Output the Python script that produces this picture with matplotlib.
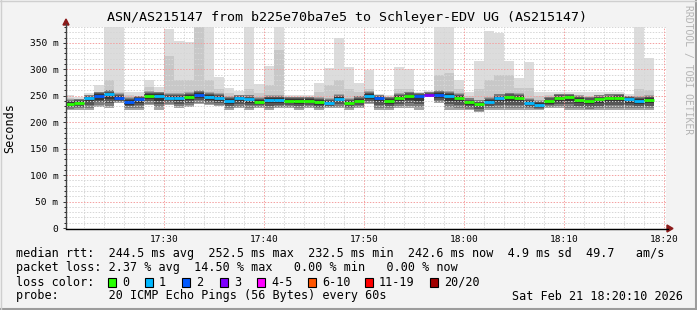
import numpy as np
import matplotlib
matplotlib.use("Agg")
import matplotlib.pyplot as plt
from matplotlib.patches import Rectangle, Polygon
from matplotlib.lines import Line2D

W, H = 697, 310
MONO = "DejaVu Sans Mono"

# one entry per minute starting 17:20
median_rtt = [235, 237, 246, 250, 252.5, 246, 238.5, 244, 250, 250,
              246.5, 246.5, 248, 252, 247.5, 246, 240, 245, 243, 238.5,
              242.5, 242.5, 241, 241, 241, 238, 237, 244, 237, 241,
              250, 245, 241, 246.5, 249, 250, 252, 252, 250, 246,
              237.5, 233.5, 239, 245, 247, 245.5, 237, 232.5, 239.5, 245.5,
              248, 242.5, 239.5, 243, 245, 246, 243, 240, 242.6]
ping_max = [251, 248, 256, 270, 390, 390, 258, 258, 280, 267,
            377, 354, 351, 390, 390, 286, 265, 259, 390, 272,
            307, 390, 252, 252, 252, 275, 303, 360, 305, 275,
            299, 254, 252, 305, 301, 257, 259, 390, 390, 279,
            258, 316, 373, 368, 315, 284, 313, 258, 258, 258,
            258, 258, 258, 258, 258, 258, 253, 390, 321]
ping_upper = [245, 244, 252, 258, 280, 258, 252, 250, 267, 258,
              326, 280, 280, 390, 280, 262, 255, 252, 262, 255,
              270, 337, 248, 248, 248, 258, 270, 280, 262, 258,
              262, 252, 248, 262, 262, 256, 257, 289, 293, 262,
              250, 262, 280, 289, 289, 265, 264, 250, 252, 254,
              254, 252, 250, 252, 254, 254, 250, 262, 260]
ping_min = [224, 224, 224, 229, 227, 236, 224, 224, 232, 224,
            232, 227, 229, 234, 232, 231, 224, 227, 224, 227,
            224, 227, 227, 224, 227, 224, 227, 227, 224, 227,
            235, 224, 224, 227, 227, 224, 248, 236, 224, 223,
            223, 219, 224, 224, 224, 224, 224, 224, 227, 227,
            224, 223, 223, 223, 224, 224, 224, 224, 224]
lost_pings = [0, 0, 1, 2, 1, 2, 2, 2, 0, 1, 1, 1, 0, 2, 1, 1, 1, 1, 1, 0,
              1, 1, 0, 0, 0, 0, 1, 1, 0, 0, 1, 2, 0, 0, 0, 2, 3, 2, 1, 0,
              0, 0, 1, 1, 0, 0, 1, 1, 0, 0, 0, 0, 0, 0, 0, 0, 1, 1, 0]

loss_labels = ["0", "1", "2", "3", "4-5", "6-10", "11-19", "20/20"]
loss_colors = ["#26ff00", "#00b8ff", "#0059ff", "#7e00ff",
               "#ff00ff", "#ff5500", "#ff0000", "#a10000"]
time_labels = ["17:30", "17:40", "17:50", "18:00", "18:10", "18:20"]
y_labels = ["0", "50 m", "100 m", "150 m", "200 m", "250 m", "300 m", "350 m"]


def fx(x):
    return x / W


def fy(y):
    return 1 - y / H


fig = plt.figure(figsize=(W / 100, H / 100), dpi=100, facecolor="#f3f3f3")
ax = fig.add_axes([fx(66), fy(228), 600 / W, 201 / H])
ax.set_facecolor("white")
ax.set_xlim(1 / 6, 60 + 1 / 6)
ax.set_ylim(0, 380)

minutes = np.arange(len(median_rtt))
med = np.array(median_rtt)
lo = np.array(ping_min)
up = np.array(ping_upper)

# smoke: light outer pings, then darker towards the median
ax.bar(minutes, np.array(ping_max) - lo, bottom=lo, width=1, align="edge",
       color="#dcdcdc", linewidth=0, zorder=1)
ax.bar(minutes, up - lo, bottom=lo, width=1, align="edge",
       color="#c8c8c8", linewidth=0, zorder=1)
d_lo = med - lo
d_hi = np.minimum(up - med, 9)
shades = [(1.0, "#a4a4a4"), (0.85, "#7c7c7c"), (0.6, "#565656"), (0.35, "#363636")]
for s, c in shades:
    ax.bar(minutes, s * (d_lo + d_hi), bottom=med - s * d_lo, width=1, align="edge",
           color=c, linewidth=0, zorder=1)

# grid drawn over the smoke like rrdtool
for v in range(10, 381, 10):
    if v % 50:
        ax.axhline(v, color="#d6d6d6", lw=0.7, ls=(0, (1.5, 1.5)), zorder=2)
for m in range(2, 61, 2):
    if m % 10:
        ax.axvline(m, color="#d6d6d6", lw=0.7, ls=(0, (1.5, 1.5)), zorder=2)
for v in range(50, 381, 50):
    ax.axhline(v, color="#f4a0a0", lw=0.7, ls=(0, (1.5, 1.5)), zorder=2)
for m in range(10, 61, 10):
    ax.axvline(m, color="#f4a0a0", lw=0.7, ls=(0, (1.5, 1.5)), zorder=2)

ax.hlines(med, minutes, minutes + 1, colors=[loss_colors[n] for n in lost_pings],
          lw=2.0, zorder=3)

ax.set_yticks(range(0, 351, 50))
ax.set_yticklabels(y_labels)
ax.set_yticks(range(0, 381, 10), minor=True)
ax.set_xticks(range(10, 61, 10))
ax.set_xticklabels(time_labels)
ax.tick_params(axis="both", labelsize=6.8, colors="#333333", labelcolor="black")
ax.tick_params(axis="y", which="major", length=2.5, width=0.7, pad=3)
ax.tick_params(axis="y", which="minor", length=1.5, width=0.6)
ax.tick_params(axis="x", length=0, pad=5)
for lab in ax.get_xticklabels() + ax.get_yticklabels():
    lab.set_family(MONO)
for side in ["top", "right", "left", "bottom"]:
    ax.spines[side].set_visible(False)

# axis lines with arrow heads
fig.add_artist(Line2D([fx(66), fx(66)], [fy(228), fy(24)], color="#444444", lw=1))
fig.add_artist(Line2D([fx(66), fx(668)], [fy(228.5), fy(228.5)], color="black", lw=1))
fig.add_artist(Polygon([(fx(63), fy(25)), (fx(69), fy(25)), (fx(66), fy(19))],
                       closed=True, transform=fig.transFigure, color="#8b1a1a"))
fig.add_artist(Polygon([(fx(667), fy(225)), (fx(667), fy(232)), (fx(673), fy(228.5))],
                       closed=True, transform=fig.transFigure, color="#8b1a1a"))

fig.text(fx(347), fy(18), "ASN/AS215147 from b225e70ba7e5 to Schleyer-EDV UG (AS215147)",
         family=MONO, fontsize=9.6, ha="center", va="center")
fig.text(fx(10), fy(128), "Seconds", family=MONO, fontsize=8.5, rotation=90,
         ha="center", va="center")
fig.text(fx(688), fy(5), "RRDTOOL / TOBI OETIKER", family=MONO, fontsize=7,
         rotation=270, ha="center", va="top", color="#b4b4b4")

legend_rows = [
    (254, "median rtt:  244.5 ms avg  252.5 ms max  232.5 ms min  242.6 ms now  4.9 ms sd  49.7   am/s"),
    (268, "packet loss: 2.37 % avg  14.50 % max   0.00 % min   0.00 % now"),
    (282, "loss color:"),
    (296, "probe:       20 ICMP Echo Pings (56 Bytes) every 60s"),
]
for y, s in legend_rows:
    fig.text(fx(16), fy(y), s, family=MONO, fontsize=8.5, ha="left", va="center")
fig.text(fx(683), fy(296), "Sat Feb 21 18:20:10 2026", family=MONO, fontsize=8.5,
         ha="right", va="center")

box_x = [108, 145, 182, 220, 257, 308, 365, 430]
for bx, lab, col in zip(box_x, loss_labels, loss_colors):
    fig.add_artist(Rectangle((fx(bx), fy(286.5)), 8 / W, 9 / H, transform=fig.transFigure,
                             facecolor=col, edgecolor="black", lw=0.8))
    fig.text(fx(bx + 14), fy(282), lab, family=MONO, fontsize=8.5, ha="left", va="center")

# 3d-ish image frame
fig.add_artist(Line2D([0, 1], [fy(309), fy(309)], color="#9c9c9c", lw=1.5))
fig.add_artist(Line2D([fx(696), fx(696)], [0, 1], color="#9c9c9c", lw=1.5))
fig.add_artist(Line2D([0, 1], [fy(0.5), fy(0.5)], color="#cfcfcf", lw=1.0))
fig.add_artist(Line2D([fx(0.5), fx(0.5)], [0, 1], color="#cfcfcf", lw=1.0))

fig.savefig("out.png", dpi=100, facecolor=fig.get_facecolor())
